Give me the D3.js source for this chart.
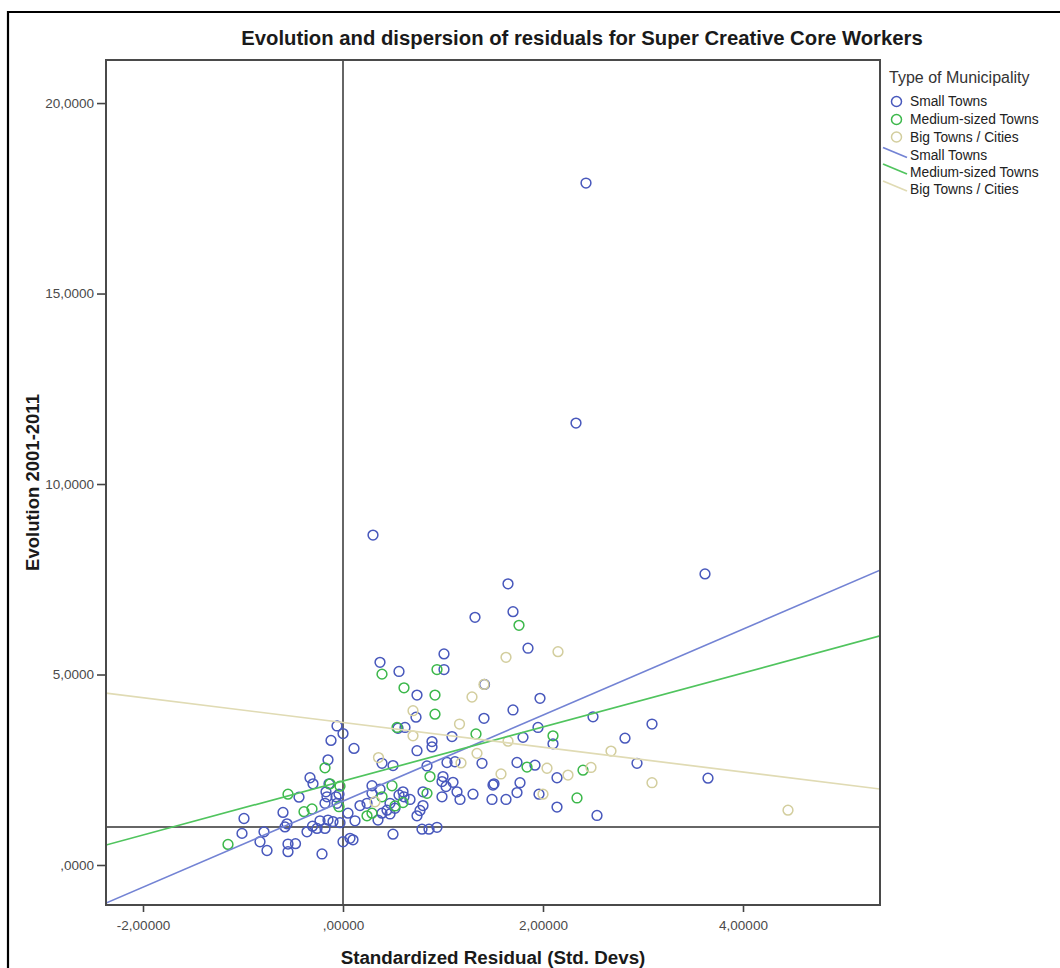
<!DOCTYPE html>
<html>
<head>
<meta charset="utf-8">
<script src="https://cdn.jsdelivr.net/npm/d3@7"></script>
<style>
  html, body { margin: 0; padding: 0; background: #ffffff; }
  svg text { font-family: "Liberation Sans", Arial, sans-serif; }
</style>
</head>
<body>
<svg id="chart" width="1060" height="968"></svg>
<script>
// ---- data ----
const categories = ["Small Towns", "Medium-sized Towns", "Big Towns / Cities"];

const smallTowns = [
  [2.43,17.90],[2.33,11.60],[0.30,8.66],[3.62,7.64],[3.65,2.28],
  [1.65,7.38],[1.70,6.65],[1.32,6.50],[1.85,5.69],[1.01,5.54],[0.37,5.32],[1.01,5.13],[0.56,5.08],
  [1.415,4.74],[0.74,4.46],[1.97,4.375],[1.70,4.07],[0.73,3.88],[1.41,3.85],[3.09,3.70],[2.50,3.89],
  [0.62,3.61],[0.55,3.59],[-0.06,3.65],[0.00,3.45],[-0.12,3.27],[1.95,3.61],[1.80,3.35],[1.09,3.37],
  [2.82,3.33],[2.10,3.18],[0.89,3.24],[0.89,3.10],[0.11,3.06],[0.74,3.00],[-0.15,2.76],[0.39,2.67],
  [0.50,2.61],[0.84,2.60],[1.04,2.69],[1.12,2.71],[1.39,2.67],[1.74,2.69],[1.92,2.62],[2.94,2.67],
  [-0.33,2.29],[-0.30,2.13],[1.00,2.32],[0.99,2.19],[1.03,2.06],[1.10,2.17],[1.51,2.13],[1.77,2.16],
  [2.14,2.29],[1.50,2.10],[1.74,1.90],[1.96,1.86],[1.14,1.92],[1.17,1.72],[1.30,1.86],[1.49,1.72],
  [1.63,1.72],[0.99,1.79],[0.80,1.92],[0.29,2.08],[0.37,1.99],[0.29,1.88],[0.60,1.92],[0.61,1.79],
  [0.56,1.84],[0.67,1.72],[0.47,1.62],[0.44,1.44],[0.39,1.36],[0.47,1.34],[0.52,1.49],[0.17,1.56],
  [0.24,1.62],[0.12,1.16],[0.05,1.36],[0.35,1.18],[0.74,1.29],[0.77,1.43],[0.80,1.56],[0.79,0.94],
  [0.86,0.94],[0.94,0.99],[0.50,0.81],[0.07,0.70],[0.10,0.66],[0.00,0.61],[2.14,1.52],[2.54,1.30],
  [-0.44,1.78],[-0.17,1.92],[-0.16,1.79],[-0.18,1.62],[-0.07,1.79],[-0.06,1.62],[-0.04,1.86],
  [-0.14,2.13],[-0.60,1.38],[-0.99,1.22],[-1.01,0.83],[-0.79,0.87],[-0.83,0.61],[-0.76,0.38],
  [-0.56,1.08],[-0.58,1.00],[-0.55,0.55],[-0.475,0.56],[-0.55,0.35],[-0.36,0.87],[-0.305,1.02],
  [-0.26,0.96],[-0.18,0.96],[-0.23,1.16],[-0.15,1.18],[-0.10,1.14],[-0.03,1.11],[-0.21,0.29]
];

const mediumTowns = [
  [1.76,6.29],[0.39,5.01],[0.94,5.13],[0.61,4.65],[0.92,4.46],[0.92,3.96],[0.54,3.61],[1.33,3.44],
  [2.10,3.39],[1.84,2.57],[0.87,2.32],[0.49,2.08],[0.84,1.88],[0.60,1.64],[0.39,1.79],[0.24,1.29],
  [0.29,1.36],[0.52,1.55],[2.40,2.49],[2.34,1.76],[-0.18,2.55],[-0.13,2.13],[-0.03,2.07],[-0.04,1.53],
  [-0.55,1.86],[-0.39,1.40],[-0.31,1.47],[-1.15,0.54]
];

const bigTowns = [
  [4.45,1.44],[1.63,5.45],[2.15,5.60],[1.41,4.74],[1.29,4.41],[0.70,4.05],[1.165,3.70],[0.70,3.39],
  [1.65,3.25],[0.355,2.82],[1.34,2.93],[1.18,2.68],[1.58,2.39],[0.32,1.66],[2.68,2.99],[2.04,2.54],
  [2.25,2.36],[2.48,2.56],[2.00,1.86],[3.09,2.16]
];

// fit lines (intercept, slope) per category
const fitIntercepts = [1.676, 2.205, 3.74];
const fitSlopes = [1.129, 0.709, -0.325];

// reference lines
const refX = 0;
const refY = 1;

// ticks
const xTickValues = [-2, 0, 2, 4];
const xTickLabels = ["-2,00000", ",00000", "2,00000", "4,00000"];
const yTickValues = [0, 5, 10, 15, 20];
const yTickLabels = [",0000", "5,0000", "10,0000", "15,0000", "20,0000"];

// ---- styles ----
const pointColors = ["#4858bc", "#3cb84b", "#d3ce9e"];
const lineColors = ["#7383d4", "#50c45e", "#e0dbb4"];
const seriesData = [smallTowns, mediumTowns, bigTowns];

const svg = d3.select("#chart");
const L = 106, R = 880, T = 60, B = 905;

const x = d3.scaleLinear().domain([-2.37, 5.37]).range([L, R]);
const y = d3.scaleLinear().domain([-1.05, 21.13]).range([B, T]);

// outer border
svg.append("path")
  .attr("d", "M8,968 L8,12 L1060,12")
  .attr("fill", "none").attr("stroke", "#000").attr("stroke-width", 2.2);

// title
svg.append("text")
  .attr("x", 582).attr("y", 44.5)
  .attr("text-anchor", "middle")
  .attr("font-size", 20.3).attr("font-weight", "bold").attr("fill", "#1a1a1a")
  .text("Evolution and dispersion of residuals for Super Creative Core Workers");

// clip
svg.append("clipPath").attr("id", "plotclip")
  .append("rect").attr("x", L).attr("y", T).attr("width", R - L).attr("height", B - T);

// axes
const yAxis = d3.axisLeft(y).tickValues(yTickValues)
  .tickFormat((d, i) => yTickLabels[i]).tickSize(9).tickPadding(3);
const gy = svg.append("g").attr("transform", `translate(${L},0)`).call(yAxis);
gy.select(".domain").remove();
gy.selectAll(".tick line").attr("stroke", "#444").attr("stroke-width", 1.6);
gy.selectAll(".tick text").attr("font-size", 13.5).attr("fill", "#4a4a4a")
  .attr("font-family", "Liberation Sans, Arial, sans-serif");

const xAxis = d3.axisBottom(x).tickValues(xTickValues)
  .tickFormat((d, i) => xTickLabels[i]).tickSize(7).tickPadding(8);
const gx = svg.append("g").attr("transform", `translate(0,${B})`).call(xAxis);
gx.select(".domain").remove();
gx.selectAll(".tick line").attr("stroke", "#444").attr("stroke-width", 1.6);
gx.selectAll(".tick text").attr("font-size", 13.5).attr("fill", "#4a4a4a")
  .attr("font-family", "Liberation Sans, Arial, sans-serif");

// axis titles
svg.append("text")
  .attr("x", (L + R) / 2).attr("y", 964)
  .attr("text-anchor", "middle")
  .attr("font-size", 18.8).attr("font-weight", "bold").attr("fill", "#1a1a1a")
  .text("Standardized Residual (Std. Devs)");

svg.append("text")
  .attr("transform", `translate(39,${(T + B) / 2}) rotate(-90)`)
  .attr("text-anchor", "middle")
  .attr("font-size", 18.5).attr("font-weight", "bold").attr("fill", "#1a1a1a")
  .text("Evolution 2001-2011");

// plot group
const plot = svg.append("g").attr("clip-path", "url(#plotclip)");

// reference lines
plot.append("line")
  .attr("x1", x(refX)).attr("x2", x(refX)).attr("y1", T).attr("y2", B)
  .attr("stroke", "#333").attr("stroke-width", 1.5);
plot.append("line")
  .attr("x1", L).attr("x2", R).attr("y1", y(refY)).attr("y2", y(refY))
  .attr("stroke", "#333").attr("stroke-width", 1.5);

// points
seriesData.forEach((data, i) => {
  plot.append("g").selectAll("circle").data(data).join("circle")
    .attr("cx", d => x(d[0])).attr("cy", d => y(d[1])).attr("r", 4.9)
    .attr("fill", "none").attr("stroke", pointColors[i]).attr("stroke-width", 1.5);
});

// fit lines
const xd = x.domain();
categories.forEach((c, i) => {
  const pts = xd.map(v => [v, fitIntercepts[i] + fitSlopes[i] * v]);
  plot.append("path")
    .attr("d", d3.line().x(d => x(d[0])).y(d => y(d[1]))(pts))
    .attr("fill", "none").attr("stroke", lineColors[i]).attr("stroke-width", 1.7);
});

// frame
svg.append("rect")
  .attr("x", L).attr("y", T).attr("width", R - L).attr("height", B - T)
  .attr("fill", "none").attr("stroke", "#4a4a4a").attr("stroke-width", 2);

// legend
const lg = svg.append("g");
lg.append("text").attr("x", 889).attr("y", 83)
  .attr("font-size", 16).attr("fill", "#333").text("Type of Municipality");
const circleRows = [101.5, 119.5, 137];
const lineRows = [155.5, 172, 189];
categories.forEach((c, i) => {
  lg.append("circle").attr("cx", 896.5).attr("cy", circleRows[i]).attr("r", 5)
    .attr("fill", "none").attr("stroke", pointColors[i]).attr("stroke-width", 1.5);
  lg.append("text").attr("x", 910).attr("y", circleRows[i] + 4.8)
    .attr("font-size", 13.8).attr("fill", "#222").text(c);
});
categories.forEach((c, i) => {
  lg.append("line").attr("x1", 883).attr("y1", lineRows[i] - 8)
    .attr("x2", 907).attr("y2", lineRows[i] + 2)
    .attr("stroke", lineColors[i]).attr("stroke-width", 1.8);
  lg.append("text").attr("x", 910).attr("y", lineRows[i] + 4.8)
    .attr("font-size", 13.8).attr("fill", "#222").text(c);
});
</script>
</body>
</html>
